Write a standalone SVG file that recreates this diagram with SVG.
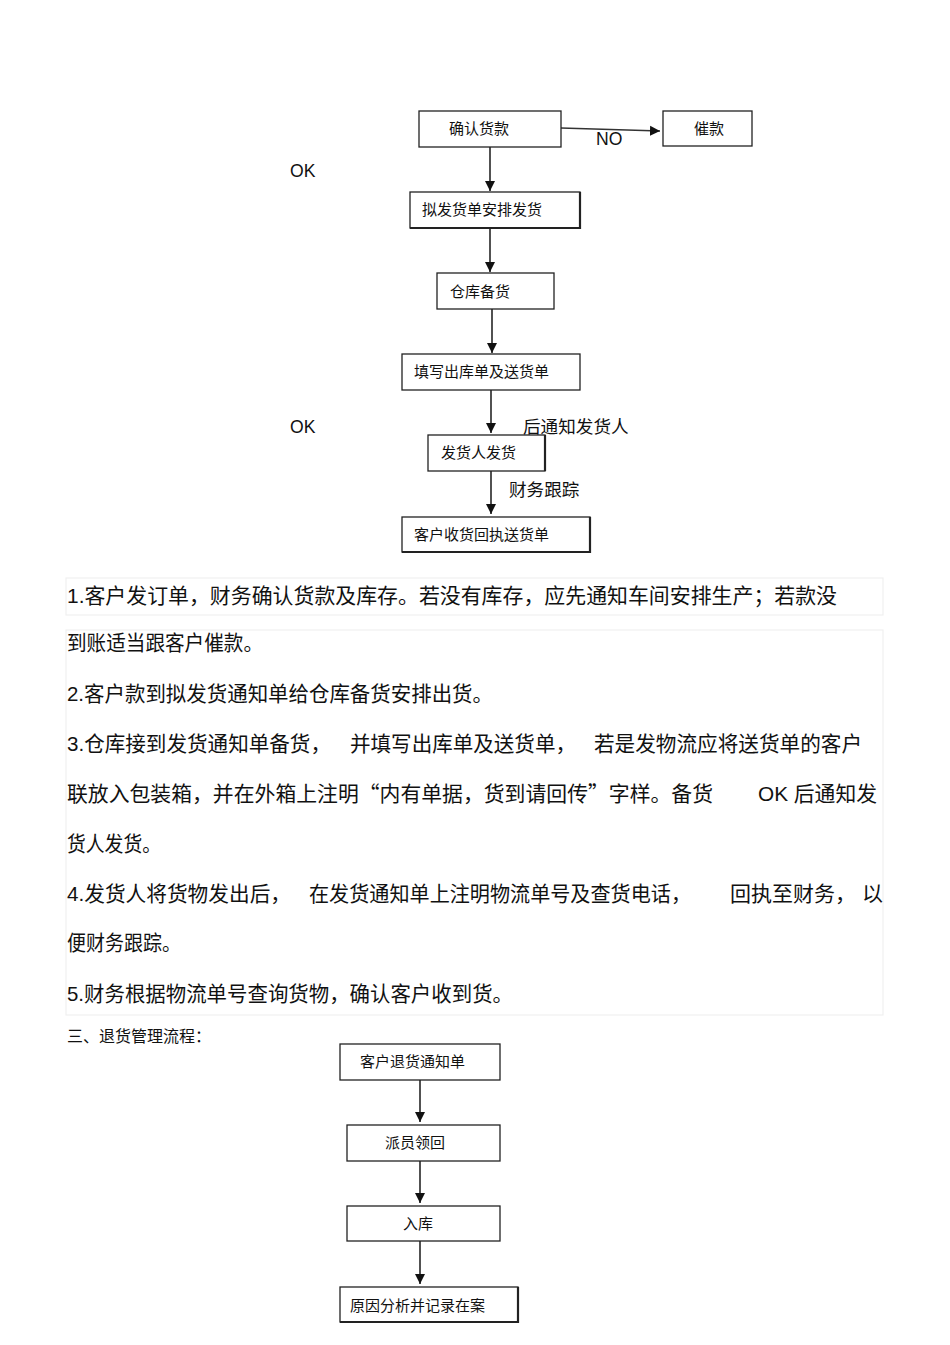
<svg xmlns="http://www.w3.org/2000/svg" width="950" height="1345" viewBox="0 0 950 1345">
<style>
.box{fill:#fff;stroke:#222;stroke-width:1.3}
.sh{fill:none;stroke:#222;stroke-width:2.2}
.bt{font-family:"Liberation Sans","Noto Sans CJK SC",sans-serif;font-size:15px;fill:#111}
.lb{font-family:"Liberation Sans","Noto Sans CJK SC",sans-serif;font-size:17.6px;fill:#111}
.p{font-family:"Liberation Sans","Noto Sans CJK SC",sans-serif;font-size:21px;fill:#111}
.q{font-family:"Noto Sans CJK SC",sans-serif}
.h{font-family:"Liberation Sans","Noto Sans CJK SC",sans-serif;font-size:16px;fill:#111}
.c{stroke:#333;stroke-width:1.7;fill:none;marker-end:url(#ah)}
.fr{fill:none;stroke:#f0f0f0;stroke-width:1.2}
</style>
<defs>
<marker id="ah" markerUnits="userSpaceOnUse" markerWidth="10" markerHeight="12" refX="10" refY="5" orient="auto" viewBox="0 0 10 10">
<path d="M0,0 L10,5 L0,10 z" fill="#111"/>
</marker>
</defs>
<rect width="950" height="1345" fill="#fff"/>

<g id="frames">
<rect class="fr" x="66" y="578" width="817" height="37"/>
<rect class="fr" x="66" y="630" width="817" height="385"/>
</g>

<g id="connectors">
<line class="c" x1="561" y1="128" x2="660" y2="131"/>
<line class="c" x1="490" y1="147" x2="490" y2="191"/>
<line class="c" x1="490" y1="228" x2="490" y2="272"/>
<line class="c" x1="492" y1="309" x2="492" y2="353"/>
<line class="c" x1="491" y1="390" x2="491" y2="433"/>
<line class="c" x1="491" y1="471" x2="491" y2="514"/>
<line class="c" x1="420" y1="1080" x2="420" y2="1122"/>
<line class="c" x1="420" y1="1161" x2="420" y2="1203"/>
<line class="c" x1="420" y1="1241" x2="420" y2="1284"/>
</g>

<g id="labels">
<text class="lb" x="596" y="145">NO</text>
<text class="lb" x="290" y="177">OK</text>
<text class="lb" x="290" y="433">OK</text>
<text class="lb" x="523" y="433">后通知发货人</text>
<text class="lb" x="509" y="496">财务跟踪</text>
</g>

<g id="n1"><rect class="box" x="419" y="111" width="142" height="36"/><text class="bt" x="449" y="134">确认货款</text></g>
<g id="n2"><rect class="box" x="663" y="111" width="89" height="35"/><text class="bt" x="694" y="134">催款</text></g>
<g id="n3"><rect class="box" x="410" y="192" width="170" height="36"/><polyline class="sh" points="410,228 580,228 580,192"/><text class="bt" x="422" y="215">拟发货单安排发货</text></g>
<g id="n4"><rect class="box" x="437" y="273" width="117" height="36"/><text class="bt" x="450" y="297">仓库备货</text></g>
<g id="n5"><rect class="box" x="402" y="354" width="178" height="36"/><text class="bt" x="414" y="377">填写出库单及送货单</text></g>
<g id="n6"><rect class="box" x="428" y="435" width="117" height="36"/><polyline class="sh" points="545,435 545,471"/><text class="bt" x="441" y="458">发货人发货</text></g>
<g id="n7"><rect class="box" x="402" y="517" width="188" height="35"/><polyline class="sh" points="402,552 590,552 590,517"/><text class="bt" x="414" y="540">客户收货回执送货单</text></g>

<g id="text">
<text class="p" x="67" y="603" textLength="770" lengthAdjust="spacingAndGlyphs">1.客户发订单，财务确认货款及库存。若没有库存，应先通知车间安排生产；若款没</text>
<text class="p" x="67" y="650" textLength="196" lengthAdjust="spacingAndGlyphs">到账适当跟客户催款。</text>
<text class="p" x="67" y="701" textLength="426" lengthAdjust="spacingAndGlyphs">2.客户款到拟发货通知单给仓库备货安排出货。</text>
<text class="p" x="67" y="751" textLength="264" lengthAdjust="spacingAndGlyphs">3.仓库接到发货通知单备货，</text>
<text class="p" x="350" y="751" textLength="226" lengthAdjust="spacingAndGlyphs">并填写出库单及送货单，</text>
<text class="p" x="594" y="751" textLength="268" lengthAdjust="spacingAndGlyphs">若是发物流应将送货单的客户</text>
<text class="p" x="67" y="801" textLength="646" lengthAdjust="spacingAndGlyphs">联放入包装箱，并在外箱上注明<tspan class="q">“</tspan>内有单据，货到请回传<tspan class="q">”</tspan>字样。备货</text>
<text class="p" x="758" y="801" textLength="119" lengthAdjust="spacingAndGlyphs">OK 后通知发</text>
<text class="p" x="67" y="851" textLength="94" lengthAdjust="spacingAndGlyphs">货人发货。</text>
<text class="p" x="67" y="901" textLength="224" lengthAdjust="spacingAndGlyphs">4.发货人将货物发出后，</text>
<text class="p" x="309" y="901" textLength="382" lengthAdjust="spacingAndGlyphs">在发货通知单上注明物流单号及查货电话，</text>
<text class="p" x="730" y="901" textLength="126" lengthAdjust="spacingAndGlyphs">回执至财务，</text>
<text class="p" x="862" y="901">以</text>
<text class="p" x="67" y="950" textLength="114" lengthAdjust="spacingAndGlyphs">便财务跟踪。</text>
<text class="p" x="67" y="1001" textLength="446" lengthAdjust="spacingAndGlyphs">5.财务根据物流单号查询货物，确认客户收到货。</text>
<text class="h" x="67" y="1042">三、退货管理流程：</text>
</g>

<g id="m1"><rect class="box" x="340" y="1044" width="160" height="36"/><text class="bt" x="360" y="1067">客户退货通知单</text></g>
<g id="m2"><rect class="box" x="347" y="1125" width="153" height="36"/><text class="bt" x="385" y="1148">派员领回</text></g>
<g id="m3"><rect class="box" x="347" y="1206" width="153" height="35"/><text class="bt" x="403" y="1229">入库</text></g>
<g id="m4"><rect class="box" x="340" y="1287" width="178" height="35"/><polyline class="sh" points="340,1322 518,1322 518,1287"/><text class="bt" x="350" y="1311">原因分析并记录在案</text></g>
</svg>
